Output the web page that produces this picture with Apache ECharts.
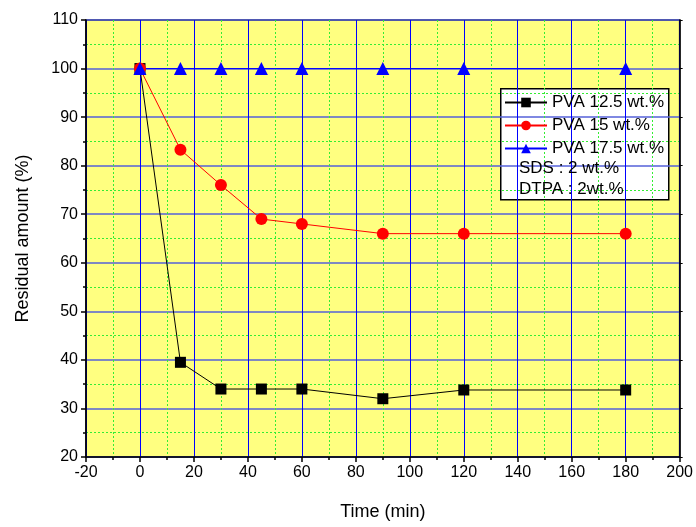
<!DOCTYPE html>
<html><head><meta charset="utf-8">
<script src="https://cdn.jsdelivr.net/npm/echarts@6/dist/echarts.min.js"></script>
<style>html,body{margin:0;padding:0;background:#fff}#c{width:696px;height:527px}</style>
</head><body><div id="c"></div>
<script>
const times = [0, 15, 30, 45, 60, 90, 120, 180];
const pva125 = [100, 39.5, 34, 34, 34, 32, 33.8, 33.8];
const pva15 = [100, 83.3, 76, 69, 68, 66, 66, 66];
const pva175 = [100, 100, 100, 100, 100, 100, 100, 100];
const seriesNames = ['PVA 12.5 wt.%', 'PVA 15 wt.%', 'PVA 17.5 wt.%'];
const noteLines = ['SDS : 2 wt.%', 'DTPA : 2wt.%'];

const font = 'Liberation Sans, Arial, sans-serif';
const chart = echarts.init(document.getElementById('c'));
const pair = (xs, ys) => xs.map((x, i) => [x, ys[i]]);

chart.setOption({
  animation: false,
  grid: { left: 86, right: 14, top: 20, bottom: 70, show: true, backgroundColor: '#ffff80', borderColor: '#000', borderWidth: 1.5 },
  xAxis: {
    type: 'value', min: -20, max: 200, interval: 20,
    name: 'Time (min)', nameLocation: 'middle', nameGap: 46,
    nameTextStyle: { fontFamily: font, fontSize: 18, color: '#000' },
    axisLine: { show: true, onZero: false, lineStyle: { color: '#000', width: 1.5 } },
    axisTick: { show: true, length: 5, lineStyle: { color: '#000', width: 1.5 } },
    minorTick: { show: true, splitNumber: 2, length: 3, lineStyle: { color: '#000', width: 1.5 } },
    axisLabel: { fontFamily: font, fontSize: 16, color: '#000', margin: 8 },
    splitLine: { show: true, lineStyle: { color: '#0000ff', width: 1 } },
    minorSplitLine: { show: true, lineStyle: { color: '#33ee33', width: 1, type: [2, 2] } }
  },
  yAxis: [{
    type: 'value', min: 20, max: 110, interval: 10,
    name: 'Residual amount (%)', nameLocation: 'middle', nameGap: 54,
    nameTextStyle: { fontFamily: font, fontSize: 18, color: '#000' },
    axisLine: { show: true, onZero: false, lineStyle: { color: '#000', width: 1.5 } },
    axisTick: { show: true, length: 5, lineStyle: { color: '#000', width: 1.5 } },
    minorTick: { show: true, splitNumber: 2, length: 3, lineStyle: { color: '#000', width: 1.5 } },
    axisLabel: { fontFamily: font, fontSize: 16, color: '#000', margin: 8 },
    splitLine: { show: true, lineStyle: { color: '#5560d8', width: 1.5 } },
    minorSplitLine: { show: true, lineStyle: { color: '#33ee33', width: 1, type: [2, 2] } }
  }, {
    type: 'value', min: 20, max: 110, interval: 10, position: 'right',
    axisLine: { show: true, onZero: false, lineStyle: { color: '#000', width: 1.5 } },
    axisTick: { show: true, length: 3, lineStyle: { color: '#000', width: 1 } },
    minorTick: { show: false },
    axisLabel: { show: false }, splitLine: { show: false }
  }],
  legend: {
    orient: 'vertical', left: 499, top: 89, itemWidth: 42, itemHeight: 12, itemGap: 6,
    textStyle: { fontFamily: font, fontSize: 17, color: '#000' },
    data: seriesNames
  },
  graphic: [
    { type: 'rect', left: 500, top: 88, shape: { width: 168, height: 111 }, style: { fill: '#fff', stroke: '#000', lineWidth: 1.5 }, z: 0, zlevel: 0 },
    { type: 'text', left: 519, top: 160, style: { text: noteLines[0], font: '17px ' + font, fill: '#000' }, z: 10 },
    { type: 'text', left: 519, top: 181, style: { text: noteLines[1], font: '17px ' + font, fill: '#000' }, z: 10 }
  ],
  series: [
    { name: seriesNames[0], type: 'line', data: pair(times, pva125), symbol: 'rect', symbolSize: 11,
      itemStyle: { color: '#000' }, lineStyle: { color: '#000', width: 1 } },
    { name: seriesNames[1], type: 'line', data: pair(times, pva15), symbol: 'circle', symbolSize: 12,
      itemStyle: { color: '#ff0000' }, lineStyle: { color: '#ff0000', width: 1 } },
    { name: seriesNames[2], type: 'line', data: pair(times, pva175), symbol: 'triangle', symbolSize: 13,
      itemStyle: { color: '#0000ff' }, lineStyle: { color: '#0000ff', width: 1 } }
  ]
});
</script></body></html>
